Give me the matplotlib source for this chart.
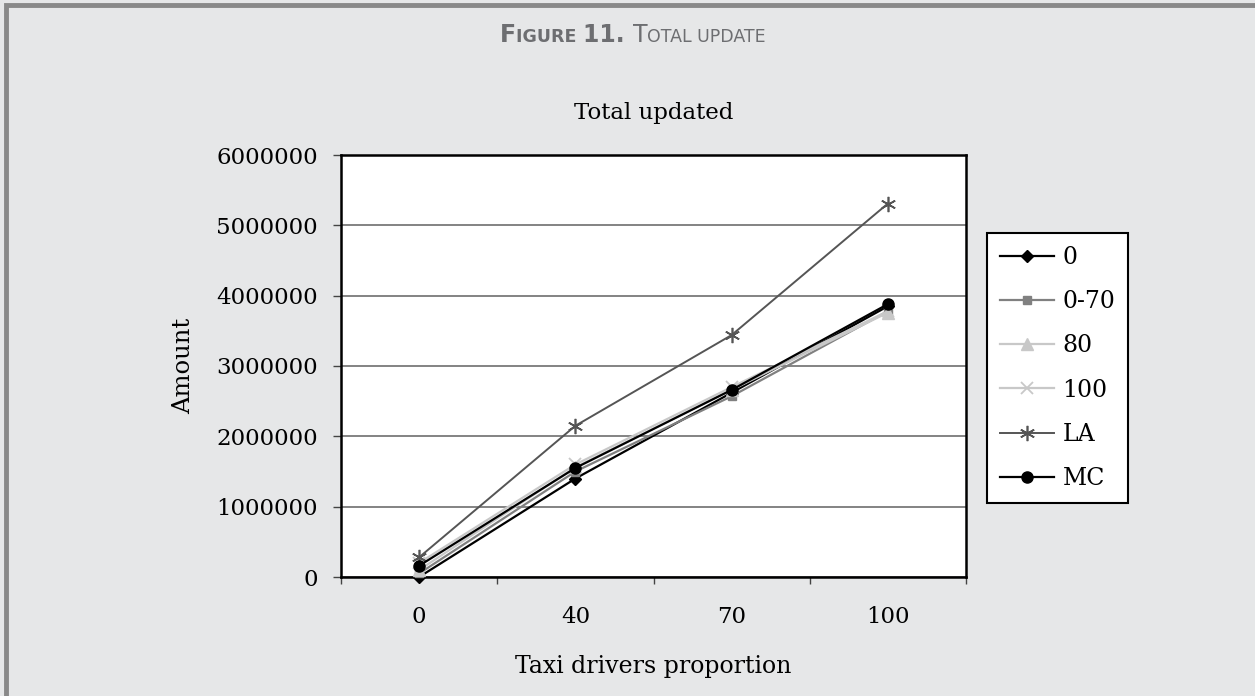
import numpy as np
import matplotlib.pyplot as plt
from matplotlib.patches import Rectangle

categories = ['0', '40', '70', '100']
series_names = ['0', '0-70', '80', '100', 'LA', 'MC']
s_0 = [0, 1400000, 2620000, 3850000]
s_0_70 = [50000, 1500000, 2570000, 3780000]
s_80 = [100000, 1560000, 2660000, 3760000]
s_100 = [200000, 1600000, 2700000, 3780000]
s_la = [280000, 2150000, 3440000, 5310000]
s_mc = [160000, 1550000, 2660000, 3880000]
y_ticks = [0, 1000000, 2000000, 3000000, 4000000, 5000000, 6000000]

plt.rcParams['font.family'] = 'DejaVu Serif'
bg = '#e6e7e8'

fig = plt.figure(figsize=(12.55, 6.96), dpi=100, facecolor=bg)

# frame around the figure (left, top, right)
fig.add_artist(Rectangle((0.0045, -0.1), 1.1, 1.093, transform=fig.transFigure,
                         fill=False, edgecolor='#898989', linewidth=3.5))

# header in small caps, built piece by piece
pieces = [('F', 17, 'bold'), ('IGURE ', 12.5, 'bold'), ('11. ', 17, 'bold'),
          ('T', 17, 'normal'), ('OTAL UPDATE', 12.5, 'normal')]
renderer = fig.canvas.get_renderer()
texts = []
total_w = 0
for s, size, weight in pieces:
    t = fig.text(0, 0, s, fontsize=size, fontweight=weight, family='DejaVu Sans',
                 color='#6d6e71', va='baseline')
    w = t.get_window_extent(renderer).width
    texts.append((t, w))
    total_w += w
x = 633 - total_w / 2
for t, w in texts:
    t.set_position((x / 1255, 1 - 42 / 696))
    x += w

ax = fig.add_axes([341 / 1255, 1 - 577 / 696, 625 / 1255, 422 / 696])
ax.set_facecolor('white')

xs = np.arange(len(categories))
styles = [
    (s_0, dict(color='black', marker='D', markersize=6, lw=1.6)),
    (s_0_70, dict(color='#808080', marker='s', markersize=6, lw=1.6)),
    (s_80, dict(color='#c8c8c8', marker='^', markersize=8, lw=1.6)),
    (s_100, dict(color='#c8c8c8', marker='x', markersize=8, mew=1.3, lw=1.6)),
    (s_la, dict(color='#555555', marker=(6, 2, 0), markersize=11, mew=1.2, lw=1.4)),
    (s_mc, dict(color='black', marker='o', markersize=8, lw=1.6)),
]
for name, (vals, kw) in zip(series_names, styles):
    ax.plot(xs, vals, label=name, clip_on=False, zorder=3, **kw)

ax.set_xlim(-0.5, len(categories) - 0.5)
ax.set_ylim(0, 6000000)
ax.set_yticks(y_ticks)
ax.set_yticklabels([str(v) for v in y_ticks])
ax.set_xticks(xs)
ax.set_xticklabels(categories)
ax.set_xticks(np.arange(-0.5, len(categories)), minor=True)
ax.tick_params(axis='x', which='major', length=0, pad=21, labelsize=16.5)
ax.tick_params(axis='x', which='minor', length=5, width=1, color='#444444')
ax.tick_params(axis='y', length=5.8, width=1, color='#444444', labelsize=16.5, pad=11)
ax.grid(axis='y', color='#6e6e6e', linewidth=1.2)
ax.set_axisbelow(True)
for sp in ax.spines.values():
    sp.set_linewidth(1.8)
    sp.set_color('black')

ax.set_title('Total updated', fontsize=16.5, pad=26)
ax.set_xlabel('Taxi drivers proportion', fontsize=17, labelpad=19)
ax.set_ylabel('Amount', fontsize=17.5, labelpad=15)

leg = fig.legend(loc='upper left', bbox_to_anchor=(987 / 1255, 1 - 233 / 696),
                 fontsize=17, frameon=True, fancybox=False, edgecolor='black',
                 framealpha=1, handlelength=2.3, handletextpad=0.35,
                 labelspacing=0.9, borderpad=0.55, borderaxespad=0)
leg.get_frame().set_linewidth(1.5)
leg.get_frame().set_facecolor('white')

fig.savefig('out.png', dpi=100, facecolor=bg)
